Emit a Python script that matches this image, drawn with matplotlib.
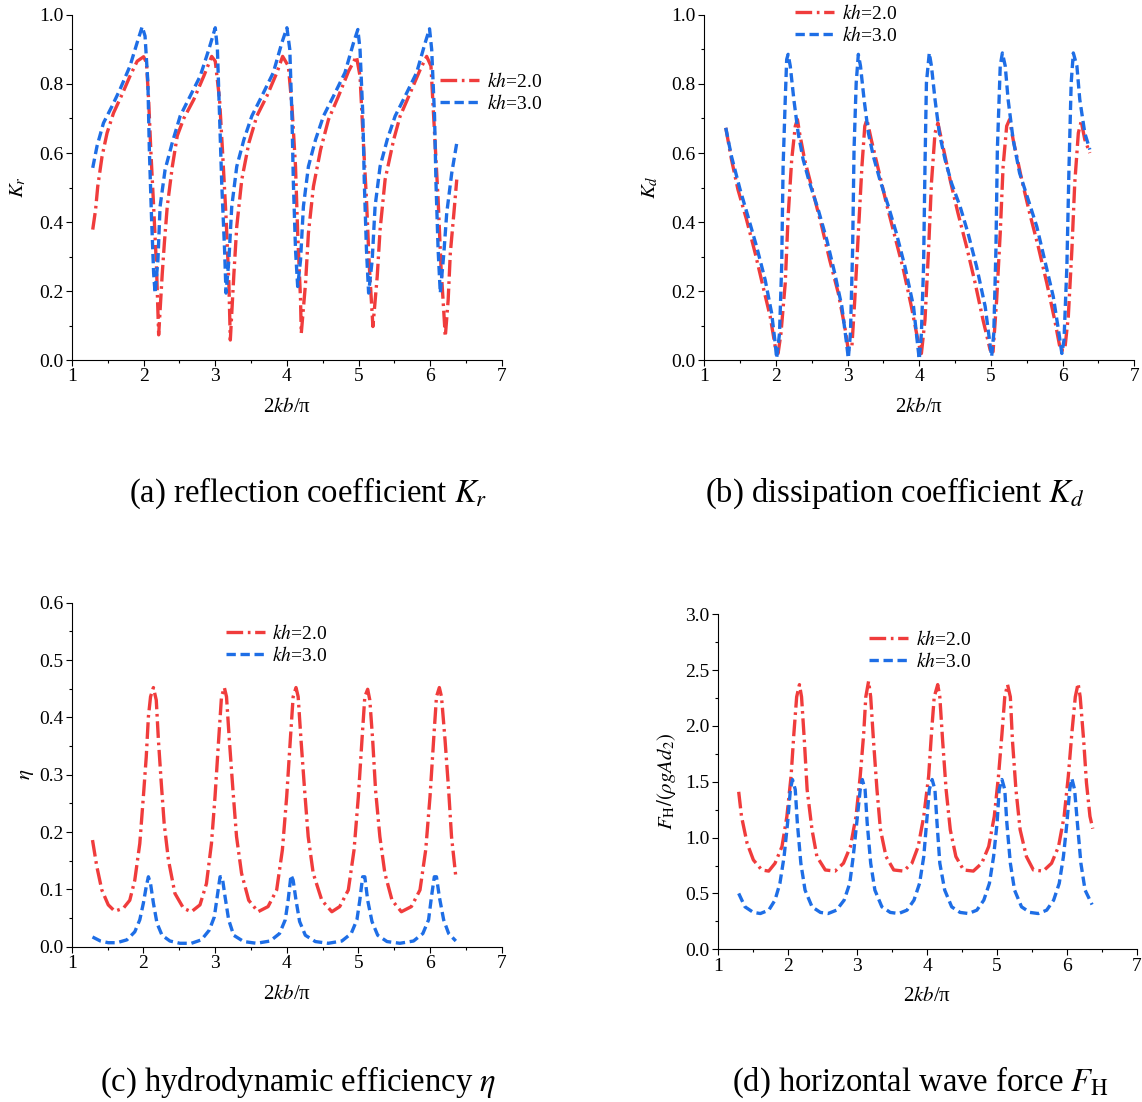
import numpy as np
import matplotlib.pyplot as plt
from matplotlib.ticker import MultipleLocator

plt.rcParams['font.family'] = ['Liberation Serif', 'DejaVu Serif']
plt.rcParams['mathtext.fontset'] = 'stix'

# ---- (a) reflection coefficient Kr ----
kr2_x = [1.29, 1.33, 1.36, 1.42, 1.49, 1.58, 1.70, 1.81, 1.91, 2.00, 2.04, 2.07, 2.10, 2.14, 2.18, 2.21,
         2.26, 2.29, 2.33, 2.40, 2.47, 2.56, 2.70, 2.84, 2.95, 3.00, 3.06, 3.10, 3.15, 3.19, 3.21,
         3.26, 3.30, 3.37, 3.47, 3.58, 3.72, 3.86, 3.94, 4.02, 4.07, 4.12, 4.15, 4.19, 4.20,
         4.26, 4.30, 4.37, 4.47, 4.58, 4.72, 4.86, 4.97, 5.02, 5.06, 5.11, 5.15, 5.20,
         5.26, 5.30, 5.37, 5.49, 5.58, 5.72, 5.86, 5.95, 6.01, 6.06, 6.11, 6.15, 6.21,
         6.25, 6.28, 6.33, 6.37]
kr2_y = [0.378, 0.436, 0.503, 0.59, 0.658, 0.716, 0.77, 0.823, 0.866, 0.879, 0.862, 0.755, 0.61, 0.445, 0.27, 0.073,
         0.25, 0.34, 0.445, 0.56, 0.65, 0.70, 0.755, 0.823, 0.88, 0.866, 0.755, 0.61, 0.416, 0.223, 0.058,
         0.25, 0.387, 0.523, 0.63, 0.707, 0.765, 0.833, 0.88, 0.852, 0.736, 0.56, 0.368, 0.174, 0.077,
         0.223, 0.368, 0.503, 0.61, 0.697, 0.765, 0.837, 0.88, 0.823, 0.658, 0.465, 0.271, 0.097,
         0.242, 0.378, 0.523, 0.639, 0.707, 0.774, 0.842, 0.88, 0.852, 0.658, 0.465, 0.271, 0.068,
         0.174, 0.31, 0.426, 0.523]
kr3_x = [1.29, 1.35, 1.44, 1.56, 1.67, 1.81, 1.91, 1.98, 2.02, 2.06, 2.08, 2.11, 2.14, 2.16,
         2.20, 2.23, 2.30, 2.40, 2.51, 2.65, 2.79, 2.91, 3.00, 3.03, 3.06, 3.09, 3.13, 3.15,
         3.19, 3.23, 3.30, 3.40, 3.51, 3.65, 3.81, 3.93, 4.00, 4.04, 4.07, 4.09, 4.12, 4.15,
         4.19, 4.23, 4.30, 4.40, 4.51, 4.65, 4.81, 4.93, 4.99, 5.02, 5.06, 5.08, 5.11, 5.14,
         5.19, 5.23, 5.30, 5.40, 5.51, 5.65, 5.81, 5.93, 5.99, 6.02, 6.06, 6.08, 6.11, 6.14,
         6.19, 6.23, 6.30, 6.37]
kr3_y = [0.557, 0.62, 0.687, 0.736, 0.784, 0.852, 0.92, 0.966, 0.939, 0.803, 0.61, 0.416, 0.252, 0.194,
         0.29, 0.445, 0.552, 0.63, 0.707, 0.765, 0.823, 0.90, 0.963, 0.90, 0.707, 0.513, 0.319, 0.194,
         0.29, 0.445, 0.561, 0.639, 0.707, 0.765, 0.833, 0.92, 0.963, 0.90, 0.707, 0.513, 0.319, 0.213,
         0.29, 0.445, 0.561, 0.639, 0.707, 0.765, 0.833, 0.92, 0.958, 0.90, 0.707, 0.513, 0.319, 0.194,
         0.29, 0.445, 0.561, 0.639, 0.707, 0.765, 0.833, 0.92, 0.96, 0.90, 0.707, 0.513, 0.319, 0.194,
         0.31, 0.426, 0.542, 0.629]

# ---- (b) dissipation coefficient Kd ----
kd2_x = [1.30, 1.38, 1.47, 1.59, 1.71, 1.82, 1.92, 1.99, 2.03, 2.07, 2.13, 2.17, 2.22, 2.27, 2.30, 2.33,
         2.40, 2.52, 2.64, 2.75, 2.87, 2.96, 3.01, 3.06, 3.10, 3.15, 3.20, 3.24, 3.27, 3.33,
         3.43, 3.54, 3.66, 3.78, 3.89, 3.99, 4.03, 4.08, 4.13, 4.17, 4.22, 4.26, 4.31,
         4.43, 4.54, 4.66, 4.78, 4.89, 4.99, 5.03, 5.08, 5.13, 5.17, 5.22, 5.26, 5.31,
         5.43, 5.54, 5.66, 5.78, 5.89, 5.97, 6.03, 6.08, 6.13, 6.17, 6.22, 6.26, 6.31, 6.38]
kd2_y = [0.673, 0.581, 0.494, 0.407, 0.31, 0.213, 0.126, 0.039, 0.019, 0.077, 0.223, 0.416, 0.581, 0.678, 0.697, 0.658,
         0.581, 0.484, 0.387, 0.29, 0.194, 0.097, 0.029, 0.039, 0.174, 0.368, 0.561, 0.678, 0.697, 0.639,
         0.552, 0.455, 0.358, 0.261, 0.155, 0.048, 0.019, 0.116, 0.32, 0.513, 0.658, 0.687, 0.639,
         0.523, 0.426, 0.329, 0.223, 0.116, 0.029, 0.024, 0.174, 0.368, 0.561, 0.678, 0.697, 0.639,
         0.523, 0.426, 0.329, 0.223, 0.116, 0.029, 0.029, 0.126, 0.32, 0.513, 0.658, 0.692, 0.639, 0.600]
kd3_x = [1.30, 1.38, 1.50, 1.61, 1.73, 1.85, 1.94, 1.99, 2.01, 2.05, 2.08, 2.10, 2.13, 2.15, 2.17, 2.20,
         2.25, 2.31, 2.38, 2.47, 2.59, 2.71, 2.82, 2.92, 2.98, 3.01, 3.04, 3.07, 3.09, 3.12, 3.15, 3.18,
         3.23, 3.29, 3.36, 3.45, 3.57, 3.68, 3.80, 3.92, 3.97, 4.00, 4.03, 4.06, 4.08, 4.10, 4.14, 4.17,
         4.22, 4.28, 4.36, 4.45, 4.57, 4.68, 4.80, 4.92, 4.98, 5.01, 5.04, 5.07, 5.09, 5.13, 5.16, 5.20,
         5.24, 5.31, 5.40, 5.52, 5.64, 5.75, 5.87, 5.95, 5.99, 6.02, 6.06, 6.09, 6.12, 6.15, 6.20,
         6.24, 6.31, 6.38]
kd3_y = [0.673, 0.59, 0.494, 0.416, 0.329, 0.232, 0.136, 0.048, 0.005, 0.077, 0.271, 0.561, 0.755, 0.871, 0.886, 0.852,
         0.755, 0.658, 0.581, 0.513, 0.436, 0.348, 0.252, 0.155, 0.058, 0.005, 0.077, 0.32, 0.61, 0.803, 0.886, 0.852,
         0.755, 0.658, 0.59, 0.523, 0.445, 0.368, 0.271, 0.155, 0.058, 0.002, 0.077, 0.271, 0.561, 0.803, 0.89, 0.852,
         0.755, 0.658, 0.581, 0.513, 0.445, 0.368, 0.271, 0.155, 0.058, 0.01, 0.077, 0.32, 0.61, 0.852, 0.89, 0.852,
         0.755, 0.639, 0.542, 0.465, 0.387, 0.29, 0.184, 0.077, 0.019, 0.058, 0.271, 0.561, 0.803, 0.89, 0.852,
         0.755, 0.658, 0.610]

# ---- (c) hydrodynamic efficiency eta ----
eta2_x = [1.29, 1.35, 1.42, 1.51, 1.60, 1.72, 1.81, 1.88, 1.95, 2.00, 2.04, 2.07, 2.10, 2.14, 2.18, 2.21,
          2.25, 2.29, 2.35, 2.44, 2.56, 2.67, 2.79, 2.88, 2.95, 3.00, 3.05, 3.09, 3.13, 3.16, 3.20,
          3.25, 3.30, 3.37, 3.47, 3.60, 3.74, 3.86, 3.94, 4.00, 4.05, 4.09, 4.13, 4.16, 4.20,
          4.25, 4.30, 4.37, 4.49, 4.63, 4.74, 4.86, 4.94, 5.00, 5.05, 5.09, 5.13, 5.16, 5.20,
          5.24, 5.30, 5.37, 5.47, 5.60, 5.74, 5.86, 5.94, 6.00, 6.05, 6.09, 6.13, 6.16, 6.21,
          6.26, 6.30, 6.36]
eta2_y = [0.186, 0.14, 0.099, 0.073, 0.062, 0.067, 0.081, 0.116, 0.18, 0.262, 0.331, 0.401, 0.436, 0.452, 0.43, 0.36,
          0.285, 0.215, 0.151, 0.093, 0.067, 0.061, 0.073, 0.11, 0.18, 0.262, 0.36, 0.436, 0.452, 0.436, 0.36,
          0.273, 0.192, 0.128, 0.081, 0.061, 0.07, 0.099, 0.169, 0.262, 0.36, 0.436, 0.452, 0.436, 0.36,
          0.273, 0.192, 0.128, 0.081, 0.061, 0.07, 0.099, 0.169, 0.262, 0.36, 0.436, 0.449, 0.43, 0.36,
          0.273, 0.192, 0.128, 0.081, 0.061, 0.07, 0.099, 0.169, 0.262, 0.36, 0.436, 0.452, 0.436, 0.36,
          0.273, 0.192, 0.122]
eta3_x = [1.29, 1.40, 1.51, 1.63, 1.77, 1.88, 1.95, 2.00, 2.04, 2.07, 2.10, 2.14, 2.19, 2.26,
          2.37, 2.51, 2.67, 2.81, 2.92, 2.99, 3.03, 3.07, 3.10, 3.14, 3.19, 3.26,
          3.40, 3.58, 3.77, 3.90, 3.98, 4.02, 4.06, 4.09, 4.13, 4.18, 4.26,
          4.40, 4.58, 4.77, 4.90, 4.98, 5.02, 5.06, 5.09, 5.13, 5.19, 5.27,
          5.40, 5.58, 5.77, 5.90, 5.98, 6.02, 6.06, 6.09, 6.13, 6.19, 6.26, 6.36]
eta3_y = [0.017, 0.010, 0.007, 0.007, 0.012, 0.026, 0.047, 0.076, 0.105, 0.122, 0.11, 0.076, 0.041, 0.02,
          0.01, 0.006, 0.006, 0.012, 0.029, 0.052, 0.087, 0.122, 0.122, 0.087, 0.047, 0.02,
          0.009, 0.006, 0.01, 0.023, 0.047, 0.081, 0.125, 0.116, 0.081, 0.044, 0.02,
          0.009, 0.006, 0.01, 0.023, 0.047, 0.081, 0.122, 0.122, 0.081, 0.044, 0.02,
          0.009, 0.006, 0.01, 0.023, 0.047, 0.087, 0.122, 0.122, 0.087, 0.047, 0.023, 0.01]

# ---- (d) horizontal wave force FH ----
fh2_x = [1.30, 1.34, 1.42, 1.51, 1.63, 1.73, 1.82, 1.92, 1.99, 2.05, 2.09, 2.13, 2.17, 2.20, 2.24, 2.28,
         2.35, 2.42, 2.54, 2.68, 2.80, 2.90, 2.98, 3.04, 3.09, 3.12, 3.16, 3.19, 3.23, 3.28,
         3.33, 3.41, 3.52, 3.66, 3.78, 3.87, 3.95, 4.02, 4.06, 4.10, 4.15, 4.18, 4.22, 4.27,
         4.33, 4.41, 4.52, 4.66, 4.78, 4.88, 4.96, 5.02, 5.07, 5.11, 5.15, 5.19, 5.22, 5.27,
         5.33, 5.42, 5.52, 5.66, 5.78, 5.88, 5.96, 6.02, 6.07, 6.12, 6.16, 6.19, 6.24, 6.28, 6.33, 6.37]
fh2_y = [1.41, 1.19, 0.95, 0.80, 0.71, 0.70, 0.77, 0.92, 1.19, 1.55, 1.93, 2.26, 2.37, 2.26, 1.87, 1.43,
         1.07, 0.83, 0.71, 0.70, 0.77, 0.92, 1.19, 1.55, 1.93, 2.26, 2.40, 2.26, 1.87, 1.43,
         1.07, 0.83, 0.71, 0.70, 0.77, 0.92, 1.19, 1.55, 1.93, 2.26, 2.37, 2.26, 1.87, 1.43,
         1.07, 0.83, 0.71, 0.70, 0.77, 0.92, 1.19, 1.55, 1.93, 2.26, 2.37, 2.26, 1.87, 1.43,
         1.07, 0.83, 0.71, 0.70, 0.77, 0.92, 1.19, 1.55, 1.93, 2.26, 2.38, 2.26, 1.87, 1.49, 1.19, 1.08]
fh3_x = [1.30, 1.39, 1.51, 1.61, 1.73, 1.82, 1.89, 1.95, 2.00, 2.04, 2.07, 2.11, 2.14, 2.19, 2.25,
         2.35, 2.47, 2.58, 2.70, 2.81, 2.89, 2.94, 2.99, 3.04, 3.07, 3.11, 3.14, 3.19, 3.25,
         3.35, 3.47, 3.59, 3.71, 3.81, 3.89, 3.95, 3.99, 4.03, 4.07, 4.11, 4.14, 4.18, 4.25,
         4.35, 4.47, 4.59, 4.71, 4.81, 4.89, 4.95, 5.00, 5.03, 5.07, 5.11, 5.14, 5.19, 5.25,
         5.35, 5.47, 5.59, 5.71, 5.81, 5.89, 5.95, 6.00, 6.04, 6.07, 6.11, 6.15, 6.20, 6.26, 6.36]
fh3_y = [0.50, 0.38, 0.33, 0.32, 0.35, 0.44, 0.59, 0.83, 1.13, 1.43, 1.52, 1.43, 1.13, 0.77, 0.53,
         0.38, 0.33, 0.32, 0.35, 0.44, 0.59, 0.83, 1.13, 1.43, 1.52, 1.43, 1.13, 0.77, 0.53,
         0.38, 0.33, 0.32, 0.35, 0.44, 0.59, 0.83, 1.13, 1.43, 1.52, 1.43, 1.13, 0.77, 0.53,
         0.38, 0.33, 0.32, 0.35, 0.44, 0.59, 0.83, 1.13, 1.43, 1.52, 1.43, 1.13, 0.77, 0.53,
         0.38, 0.33, 0.32, 0.35, 0.44, 0.59, 0.83, 1.13, 1.43, 1.53, 1.43, 1.13, 0.77, 0.53, 0.40]

RED = '#F03C3C'
BLUE = '#1E6EE6'
red_ls = (0, (5.0, 1.4, 0.8, 1.4))
blue_ls = (0, (2.8, 1.4))

fig = plt.figure(figsize=(11.42, 11.02), dpi=100)

panels = [
    # axes rect, data, ylim, y major, y minor, ylabel, legend anchor, caption, caption x, caption y, ylabel pad
    ([0.0630, 0.6733, 0.3765, 0.3131], (kr2_x, kr2_y, kr3_x, kr3_y), 1.0, 0.2, 0.1, r'$K_r$', (0.856, 0.835),
     r'(a) reflection coefficient $K_r$', 0.270, 0.5526, 8),
    ([0.6167, 0.6733, 0.3765, 0.3131], (kd2_x, kd2_y, kd3_x, kd3_y), 1.0, 0.2, 0.1, r'$K_d$', (0.211, 1.031),
     r'(b) dissipation coefficient $K_d$', 0.783, 0.5526, 8),
    ([0.0628, 0.1409, 0.3765, 0.3122], (eta2_x, eta2_y, eta3_x, eta3_y), 0.6, 0.1, 0.05, r'$\eta$', (0.358, 0.938),
     r'(c) hydrodynamic efficiency $\eta$', 0.261, 0.0180, 2),
    ([0.6285, 0.1386, 0.3669, 0.3040], (fh2_x, fh2_y, fh3_x, fh3_y), 3.0, 0.5, 0.25, r'$F_{\rm H}/(\rho gAd_2)$',
     (0.361, 0.953), r'(d) horizontal wave force $F_{\rm H}$', 0.806, 0.0180, 5),
]

for rect, (x2, y2, x3, y3), ytop, ymaj, ymin, ylab, leg_xy, cap, cap_x, cap_y, ypad in panels:
    ax = fig.add_axes(rect)
    ax.plot(x2, y2, color=RED, lw=2.4, linestyle=red_ls, label=r'$kh$=2.0')
    ax.plot(x3, y3, color=BLUE, lw=2.4, linestyle=blue_ls, label=r'$kh$=3.0')
    ax.set_xlim(1, 7)
    ax.set_ylim(0, ytop)
    ax.xaxis.set_major_locator(MultipleLocator(1))
    ax.xaxis.set_minor_locator(MultipleLocator(0.5))
    ax.yaxis.set_major_locator(MultipleLocator(ymaj))
    ax.yaxis.set_minor_locator(MultipleLocator(ymin))
    ax.yaxis.set_major_formatter(plt.FormatStrFormatter('%.1f'))
    for s in ['top', 'right']:
        ax.spines[s].set_visible(False)
    ax.tick_params(which='major', direction='out', length=4, width=0.8, labelsize=14, pad=2)
    ax.tick_params(which='minor', direction='out', length=2.5, width=0.8)
    ax.set_xlabel(r'2$kb$/π', fontsize=15, labelpad=9)
    ax.set_ylabel(ylab, fontsize=15, labelpad=ypad)
    ax.legend(loc='upper left', bbox_to_anchor=leg_xy, frameon=False, fontsize=14,
              handlelength=2.0, handletextpad=0.4, labelspacing=0.15,
              borderpad=0, borderaxespad=0)
    fig.text(cap_x, cap_y, cap, fontsize=23.5, ha='center', va='center')

fig.savefig('out.png', dpi=100)
